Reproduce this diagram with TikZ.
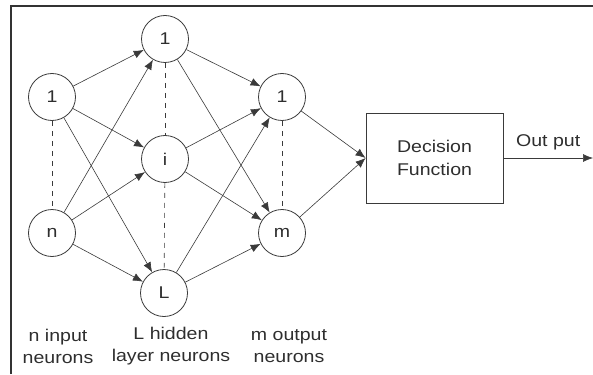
\documentclass[tikz,border=0pt]{standalone}
\usepackage{fontspec}
\setmainfont{Liberation Sans}[FakeStretch=1.15]
\usetikzlibrary{arrows.meta}
\definecolor{linegray}{HTML}{3A3A3A}
\definecolor{framegray}{HTML}{333333}
\definecolor{textgray}{HTML}{2E2E2E}
\tikzset{neuron/.style={circle, draw=linegray, thick, minimum size=47pt, inner sep=0pt, text=textgray, font=\fontsize{17}{19}\selectfont},
         conn/.style={draw=linegray, semithick, -{Latex[length=10pt,width=8pt]}},
         dots/.style={draw=linegray, semithick, dash pattern=on 5pt off 5pt},
         caption/.style={align=center, text=textgray, font=\fontsize{17}{22}\selectfont}}

\begin{document}
\begin{tikzpicture}[x=1pt,y=-1pt]
   \useasboundingbox (0,0) rectangle (593,374);
   % frame
   \draw[framegray, line width=2.2pt] (11,374) -- (11,6) -- (593,6);
   % layers
   \node[neuron] (in1) at (52,97)  {1};
   \node[neuron] (inn) at (52,233) {n};
   \node[neuron] (h1)  at (165,39)  {1};
   \node[neuron] (hi)  at (165,159) {i};
   \node[neuron] (hL)  at (164,293) {L};
   \node[neuron] (o1)  at (282,97)  {1};
   \node[neuron] (om)  at (282,233) {m};
   \node[draw=linegray, thick, minimum width=137pt, minimum height=90pt, align=center, text=textgray, font=\fontsize{17}{23}\selectfont] (dec) at (434.5,158) {Decision\\Function};
   \coordinate (out) at (593,158);
   % dashes
   \draw[dots] (in1) -- (inn);
   \draw[dots] (h1) -- (hi);
   \draw[dots] (hi) -- (hL);
   \draw[dots] (o1) -- (om);
   % input to hidden
   \draw[conn] (in1) -- (h1);
   \draw[conn] (in1) -- (hi);
   \draw[conn] (in1) -- (hL);
   \draw[conn] (inn) -- (h1);
   \draw[conn] (inn) -- (hi);
   \draw[conn] (inn) -- (hL);
   % hidden to output
   \draw[conn] (h1) -- (o1);
   \draw[conn] (h1) -- (om);
   \draw[conn] (hi) -- (o1);
   \draw[conn] (hi) -- (om);
   \draw[conn] (hL) -- (o1);
   \draw[conn] (hL) -- (om);
   % output to decision
   \draw[conn] (o1) -- (dec.west);
   \draw[conn] (om) -- (dec.west);
   \draw[conn] (dec.east) -- node[above=4pt, text=textgray, font=\fontsize{17}{19}\selectfont] (outlabel) {Out put} (out);
   % captions
   \node[caption] (capin)  at (58,346)  {n input\\neurons};
   \node[caption] (caphid) at (171,346) {L hidden\\layer neurons};
   \node[caption] (capout) at (289,346) {m output\\neurons};
\end{tikzpicture}
\end{document}
